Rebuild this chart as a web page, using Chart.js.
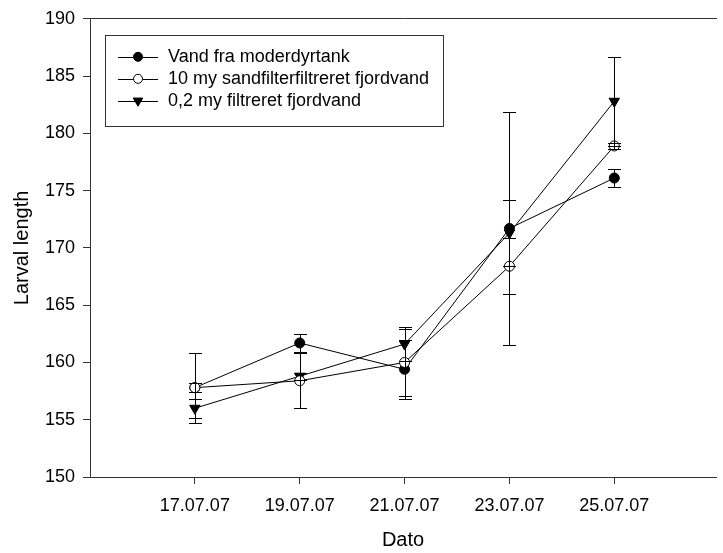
<!DOCTYPE html>
<html>
<head>
<meta charset="utf-8">
<script src="https://cdn.jsdelivr.net/npm/chart.js@4"></script>
<style>
  body { margin: 0; background: #fff; }
  canvas { display: block; }
</style>
</head>
<body>
<canvas id="grafLarver" width="723" height="553"></canvas>
<script>
// datoer for målingerne (dag i juli bruges som x)
const datoer = ["17.07.07", "19.07.07", "21.07.07", "23.07.07", "25.07.07"];
const dage = datoer.map((d) => parseInt(d, 10));

const navne = [
  "Vand fra moderdyrtank",
  "10 my sandfilterfiltreret fjordvand",
  "0,2 my filtreret fjordvand",
];

// middelværdier og fejl (larvelængde)
const moderdyr = [157.8, 161.7, 159.4, 171.7, 176.1];
const moderdyrFejl = [0.4, 0.8, 2.55, 10.2, 0.8];

const sandfilter = [157.8, 158.4, 160.0, 168.4, 178.9];
const sandfilterFejl = [3.05, 2.4, 2.95, 2.45, 0.3];

const filtreret = [156.0, 158.8, 161.6, 171.3, 182.8];
const filtreretFejl = [0.85, 0.3, 1.5, 2.9, 3.9];

const yTicks = [150, 155, 160, 165, 170, 175, 180, 185, 190];

const font = "'Liberation Sans', Arial, sans-serif";
const sort = "#000";
const akseFarve = "#333";

const lavPunkter = (vaerdier) => vaerdier.map((v, i) => ({ x: dage[i], y: v }));

const datasets = [
  {
    label: navne[0],
    data: lavPunkter(moderdyr),
    fejl: moderdyrFejl,
    borderColor: sort,
    backgroundColor: sort,
    borderWidth: 1,
    pointStyle: "circle",
    pointRadius: 5,
    pointBorderWidth: 1,
    order: 1,
  },
  {
    label: navne[1],
    data: lavPunkter(sandfilter),
    fejl: sandfilterFejl,
    borderColor: sort,
    backgroundColor: "#fff",
    borderWidth: 1,
    pointStyle: "circle",
    pointRadius: 5,
    pointBorderWidth: 1,
    order: 0,
  },
  {
    label: navne[2],
    data: lavPunkter(filtreret),
    fejl: filtreretFejl,
    borderColor: sort,
    backgroundColor: sort,
    borderWidth: 1,
    pointStyle: "triangle",
    pointRotation: 180,
    pointRadius: 6,
    pointBorderWidth: 1,
    order: 2,
  },
];

// fejlsøjler med tværstreger, tegnes oven på punkterne
const fejlsoejler = {
  id: "fejlsoejler",
  afterDatasetsDraw(chart) {
    const { ctx, scales } = chart;
    const x = scales.x;
    const y = scales.y;
    ctx.save();
    ctx.strokeStyle = sort;
    ctx.lineWidth = 1;
    chart.data.datasets.forEach((ds) => {
      ds.data.forEach((p, i) => {
        const e = ds.fejl[i];
        const px = Math.round(x.getPixelForValue(p.x)) + 0.5;
        const top = Math.round(y.getPixelForValue(p.y + e)) + 0.5;
        const bund = Math.round(y.getPixelForValue(p.y - e)) + 0.5;
        ctx.beginPath();
        ctx.moveTo(px, top);
        ctx.lineTo(px, bund);
        ctx.moveTo(px - 6.5, top);
        ctx.lineTo(px + 6.5, top);
        ctx.moveTo(px - 6.5, bund);
        ctx.lineTo(px + 6.5, bund);
        ctx.stroke();
      });
    });
    ctx.restore();
  },
};

// forklaring i en ramme oppe i venstre hjørne
const forklaring = {
  id: "forklaring",
  afterDraw(chart) {
    const { ctx, chartArea } = chart;
    const bx = chartArea.left + 15;
    const by = chartArea.top + 16;
    ctx.save();
    ctx.strokeStyle = akseFarve;
    ctx.lineWidth = 1;
    ctx.strokeRect(Math.round(bx) + 0.5, Math.round(by) + 0.5, 338, 91);
    ctx.font = "18px " + font;
    ctx.textBaseline = "middle";
    ctx.fillStyle = sort;
    chart.data.datasets.forEach((ds, i) => {
      const ry = by + 22 + i * 22;
      const lx = bx + 13;
      ctx.strokeStyle = sort;
      ctx.beginPath();
      ctx.moveTo(lx, Math.round(ry) + 0.5);
      ctx.lineTo(lx + 40, Math.round(ry) + 0.5);
      ctx.stroke();
      ctx.fillStyle = ds.backgroundColor;
      Chart.helpers.drawPoint(ctx, {
        pointStyle: ds.pointStyle,
        rotation: ds.pointRotation || 0,
        radius: ds.pointRadius - 0.5,
        borderWidth: 1,
      }, lx + 20, ry);
      ctx.fillStyle = sort;
      ctx.fillText(ds.label, bx + 63, ry);
    });
    ctx.restore();
  },
};

const config = {
  type: "line",
  data: { datasets },
  options: {
    responsive: false,
    animation: false,
    devicePixelRatio: 1,
    layout: { padding: { top: 17, right: 0, bottom: 0, left: 0 } },
    elements: { line: { tension: 0 } },
    plugins: {
      legend: { display: false },
      tooltip: { enabled: false },
    },
    scales: {
      x: {
        type: "linear",
        position: "bottom",
        min: 15,
        max: 26.94,
        afterBuildTicks: (s) => {
          s.ticks = dage.map((v) => ({ value: v }));
        },
        afterFit: (s) => {
          s.height = 76;
        },
        ticks: {
          color: sort,
          font: { family: font, size: 18 },
          padding: 11,
          maxRotation: 0,
          callback: (v) => datoer[dage.indexOf(v)],
        },
        grid: {
          drawOnChartArea: false,
          tickLength: 7,
          color: akseFarve,
        },
        border: { color: akseFarve, width: 1 },
        title: {
          display: true,
          text: "Dato",
          color: sort,
          font: { family: font, size: 20 },
          padding: { top: 0, bottom: 1 },
        },
      },
      xTop: {
        type: "linear",
        position: "top",
        display: true,
        min: 15,
        max: 26.94,
        afterFit: (s) => {
          s.height = 0;
        },
        ticks: { display: false },
        grid: { display: false },
        border: { color: akseFarve, width: 1 },
      },
      y: {
        min: 150,
        max: 190,
        afterBuildTicks: (s) => {
          s.ticks = yTicks.map((v) => ({ value: v }));
        },
        afterFit: (s) => {
          s.width = 90;
        },
        ticks: {
          color: sort,
          font: { family: font, size: 18 },
          padding: 8,
        },
        grid: {
          drawOnChartArea: false,
          tickLength: 7,
          color: akseFarve,
        },
        border: { color: akseFarve, width: 1 },
        title: {
          display: true,
          text: "Larval length",
          color: sort,
          font: { family: font, size: 20 },
          padding: { top: 10, bottom: 0 },
        },
      },
    },
  },
  plugins: [fejlsoejler, forklaring],
};

const grafLarver = new Chart(document.getElementById("grafLarver"), config);
</script>
</body>
</html>
